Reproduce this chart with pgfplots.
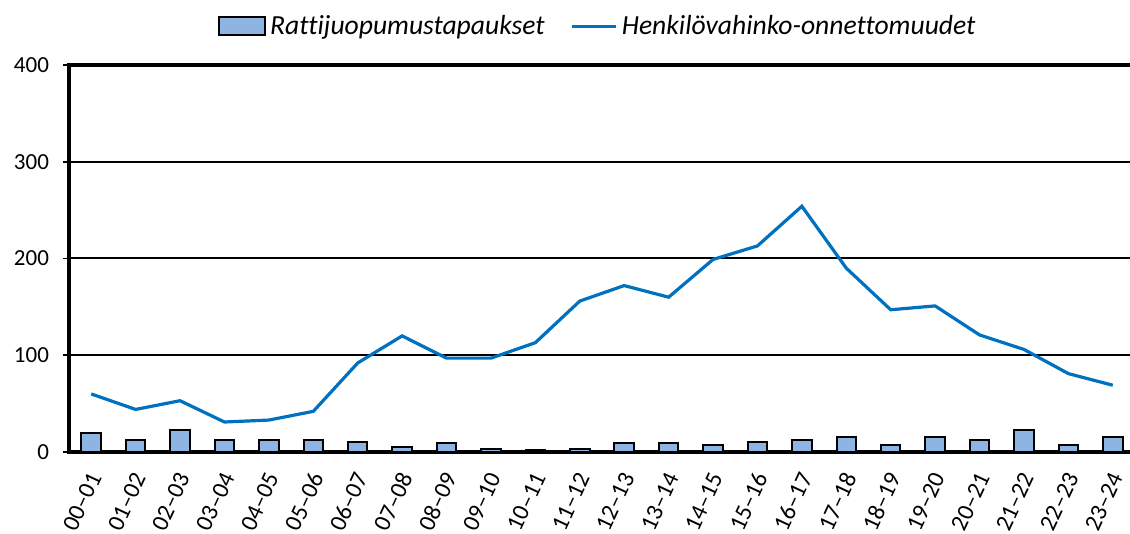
\documentclass[border=0pt]{standalone}
\usepackage{pgfplots}
\pgfplotsset{compat=1.18}
\usepackage{fontspec}
\setmainfont{Carlito}[Ligatures=NoCommon]
\definecolor{barfill}{HTML}{8DB4E2}
\definecolor{linec}{HTML}{0070C0}
\begin{document}
\begin{tikzpicture}[x=1pt,y=1pt]
\useasboundingbox (0,0) rectangle (565,267);
\begin{axis}[
  at={(34.5pt,41pt)}, anchor=south west,
  scale only axis, width=533pt, height=193.5pt,
  xmin=-0.5, xmax=23.5, ymin=0, ymax=400,
  axis line style={black, line width=1.75pt},
  ytick={0,100,200,300,400},
  ymajorgrids, grid style={black, line width=1pt},
  xtick={0,...,23},
  xticklabels={00–01,01–02,02–03,03–04,04–05,05–06,06–07,07–08,08–09,09–10,10–11,11–12,12–13,13–14,14–15,15–16,16–17,17–18,18–19,19–20,20–21,21–22,22–23,23–24},
  xtick style={draw=none},
  ytick pos=left, tick align=outside, major tick length=3pt,
  ytick style={black, line width=0.8pt},
  yticklabel style={xshift=-3.5pt, font=\fontsize{11.5}{13}\selectfont},
  xticklabel style={yshift=-4.8pt, xshift=3.5pt, rotate=65, anchor=east, font=\fontsize{12}{14}\selectfont},
  /pgf/number format/assume math mode=true,
  legend columns=2,
  legend style={at={(0.497,1.10)}, anchor=center, draw=none, fill=none,
    font=\fontsize{13.8}{16}\selectfont\itshape,
    /tikz/every even column/.append style={column sep=11pt}},
  legend cell align=left,
]
\addplot[ybar, bar width=9.75pt, fill=barfill, draw=black, line width=1pt,
  legend image code/.code={\draw[fill=barfill, draw=black, line width=1pt] (-3pt,-4.5pt) rectangle (20pt,4.5pt);}]
  coordinates {(0,20) (1,12) (2,23) (3,12) (4,12) (5,12) (6,10) (7,5) (8,9) (9,3) (10,2) (11,3) (12,9) (13,9) (14,7) (15,10) (16,12) (17,16) (18,7) (19,16) (20,12) (21,23) (22,7) (23,16)};
\addlegendentry{Rattijuopumustapaukset}
\addplot[linec, line width=1.6pt, mark=none,
  legend image code/.code={\draw[linec, line width=1.6pt] (2pt,0pt) -- (24pt,0pt);}]
  coordinates {(0,60) (1,44) (2,53) (3,31) (4,33) (5,42) (6,92) (7,120) (8,97) (9,97) (10,113) (11,156) (12,172) (13,160) (14,199) (15,213) (16,254) (17,190) (18,147) (19,151) (20,121) (21,106) (22,81) (23,69)};
\addlegendentry{Henkilövahinko-onnettomuudet}
\end{axis}
\end{tikzpicture}
\end{document}
